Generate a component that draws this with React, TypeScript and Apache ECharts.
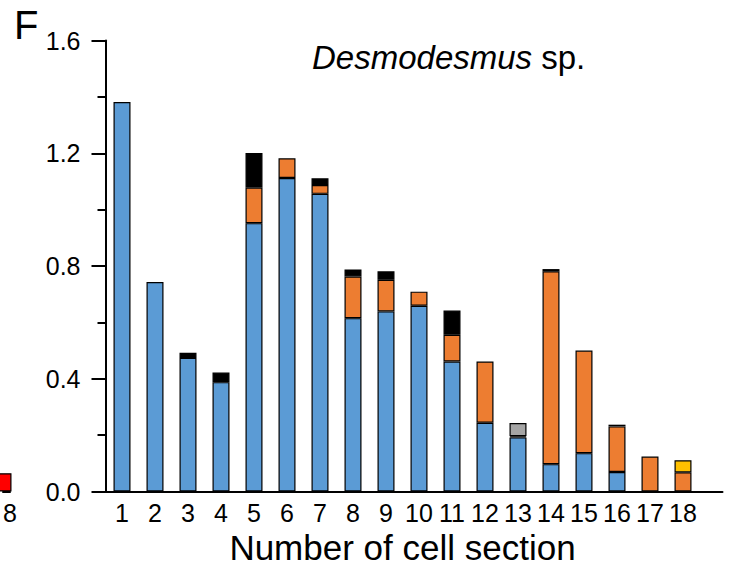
import React, { useEffect, useRef } from 'react';
import * as echarts from 'echarts';

// Number of cell section (categories)
const sections = ['1', '2', '3', '4', '5', '6', '7', '8', '9', '10', '11', '12', '13', '14', '15', '16', '17', '18'];

// Stacked segment heights per section (null = segment absent)
const blueValues = [1.382, 0.743, 0.474, 0.388, 0.952, 1.112, 1.056, 0.615, 0.639, 0.659, 0.461, 0.244, 0.192, 0.097, 0.136, 0.069, null, null];
const orangeValues = [null, null, null, null, 0.126, 0.070, 0.031, 0.148, 0.112, 0.050, 0.095, 0.217, 0.004, 0.684, 0.364, 0.162, 0.124, 0.068];
const blackValues = [null, null, 0.018, 0.034, 0.123, null, 0.024, 0.025, 0.030, null, 0.086, null, null, 0.008, null, 0.006, null, null];
const grayValues = [null, null, null, null, null, null, null, null, null, null, null, null, 0.047, null, null, null, null, null];
const yellowValues = [null, null, null, null, null, null, null, null, null, null, null, null, null, null, null, null, null, 0.043];

// Fragment of the neighbouring panel visible at the left edge (only "8" of its last label shows)
const neighbourCategories = ['8', ''];
const neighbourRed = [0.065, null];

const FONT = '"Liberation Sans", Arial, Helvetica, sans-serif';

export default function App() {
  const ref = useRef<HTMLDivElement>(null);

  useEffect(() => {
    if (!ref.current) return;
    const chart = echarts.init(ref.current, undefined, { renderer: 'svg' });

    const mk = (name: string, vals: (number | null)[], color: string) => ({
      name,
      type: 'bar',
      stack: 'total',
      xAxisIndex: 0,
      yAxisIndex: 0,
      barWidth: 17,
      data: vals,
      itemStyle: { color, borderColor: '#000', borderWidth: 1.2 },
    });

    chart.setOption({
      animation: false,
      backgroundColor: '#fff',
      title: [
        {
          text: 'F',
          left: 9,
          top: 0,
          textStyle: { fontSize: 40, fontWeight: 'normal', color: '#000', fontFamily: FONT },
        },
        {
          text: '{i|Desmodesmus} sp.',
          left: 307,
          top: 36,
          textStyle: {
            fontSize: 33,
            fontWeight: 'normal',
            color: '#000',
            fontFamily: FONT,
            rich: { i: { fontStyle: 'italic', fontSize: 33, color: '#000', fontFamily: FONT } },
          },
        },
      ],
      grid: [
        { left: 105.5, width: 594, top: 40.5, bottom: 79.5 },
        { left: 0, width: 10, top: 40.5, bottom: 79.5 },
        { left: 105.5, right: 26.5, top: 40.5, bottom: 79.5 },
      ],
      xAxis: [
        {
          type: 'category',
          gridIndex: 0,
          data: sections,
          boundaryGap: true,
          name: 'Number of cell section',
          nameLocation: 'middle',
          nameGap: 38,
          nameTextStyle: { fontSize: 35, color: '#000', fontFamily: FONT },
          axisLine: { show: false },
          axisTick: { show: false },
          splitLine: { show: false },
          axisLabel: { fontSize: 25, color: '#000', fontFamily: FONT, margin: 9, interval: 0 },
        },
        {
          type: 'category',
          gridIndex: 1,
          data: neighbourCategories,
          boundaryGap: false,
          axisLine: { show: true, lineStyle: { color: '#000', width: 2 } },
          axisTick: { show: false },
          axisLabel: { fontSize: 25, color: '#000', fontFamily: FONT, margin: 9, align: 'left', interval: 0 },
        },
        {
          type: 'value',
          gridIndex: 2,
          min: 0,
          max: 1,
          axisLine: { show: true, onZero: false, lineStyle: { color: '#000', width: 2 } },
          axisTick: { show: false },
          axisLabel: { show: false },
          splitLine: { show: false },
        },
      ],
      yAxis: [
        {
          type: 'value',
          gridIndex: 0,
          min: 0,
          max: 1.6,
          interval: 0.4,
          axisLine: { show: true, onZero: false, lineStyle: { color: '#000', width: 2 } },
          axisTick: { show: true, inside: false, length: 14, lineStyle: { color: '#000', width: 2 } },
          minorTick: { show: true, splitNumber: 2, length: 8, lineStyle: { color: '#000', width: 2 } },
          splitLine: { show: false },
          minorSplitLine: { show: false },
          axisLabel: {
            fontSize: 25,
            color: '#000',
            fontFamily: FONT,
            margin: 25,
            formatter: (v: number) => v.toFixed(1),
          },
        },
        { type: 'value', gridIndex: 1, min: 0, max: 1.6, show: false },
        { type: 'value', gridIndex: 2, min: 0, max: 1, show: false },
      ],
      series: [
        mk('blue', blueValues, '#5B9BD5'),
        mk('orange', orangeValues, '#ED7D31'),
        mk('black', blackValues, '#000000'),
        mk('gray', grayValues, '#A5A5A5'),
        mk('yellow', yellowValues, '#FFC000'),
        {
          name: 'neighbour',
          type: 'bar',
          xAxisIndex: 1,
          yAxisIndex: 1,
          barWidth: 17,
          clip: false,
          data: neighbourRed,
          itemStyle: { color: '#FF0000', borderColor: '#000', borderWidth: 1.2 },
        },
      ],
    });

    return () => chart.dispose();
  }, []);

  return (
    <div
      ref={ref}
      style={{ position: 'fixed', left: 0, top: 0, width: 749, height: 571, background: '#fff' }}
    />
  );
}
